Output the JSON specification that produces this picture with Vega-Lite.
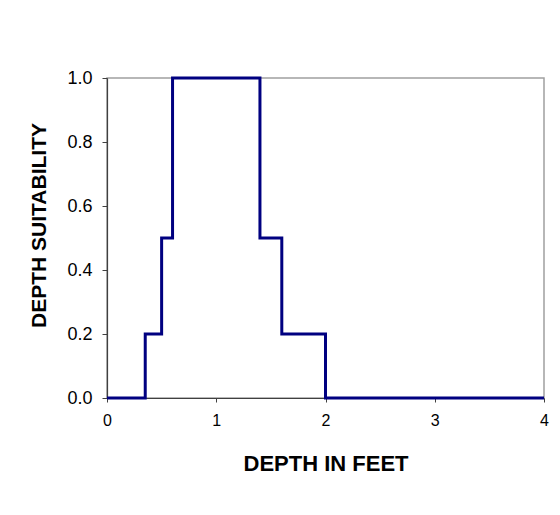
{
  "$schema": "https://vega.github.io/schema/vega-lite/v6.json",
  "width": 437,
  "height": 320,
  "autosize": {"type": "none"},
  "padding": {"left": 107, "top": 78, "right": 16, "bottom": 117},
  "background": "white",
  "config": {
    "font": "Liberation Sans",
    "view": {"stroke": "#a0a0a0", "strokeWidth": 1.5},
    "axis": {"grid": false, "domainColor": "#404040", "tickColor": "#404040", "domainWidth": 1.2, "labelColor": "black", "titleColor": "black"}
  },
  "data": {
    "values": [
      {"depth": 0, "suitability": 0},
      {"depth": 0.35, "suitability": 0.2},
      {"depth": 0.5, "suitability": 0.5},
      {"depth": 0.6, "suitability": 1.0},
      {"depth": 1.4, "suitability": 0.5},
      {"depth": 1.6, "suitability": 0.2},
      {"depth": 2.0, "suitability": 0},
      {"depth": 4.0, "suitability": 0}
    ]
  },
  "mark": {"type": "line", "interpolate": "step-after", "color": "#000080", "strokeWidth": 3},
  "encoding": {
    "x": {
      "field": "depth", "type": "quantitative",
      "scale": {"domain": [0, 4], "nice": false},
      "axis": {"values": [0, 1, 2, 3, 4], "format": "d", "title": "DEPTH IN FEET", "titleFontSize": 22, "titleFontWeight": "bold", "titlePadding": 25, "labelFontSize": 16, "labelPadding": 10, "tickSize": 4, "labelFlush": false}
    },
    "y": {
      "field": "suitability", "type": "quantitative",
      "scale": {"domain": [0, 1], "nice": false},
      "axis": {"values": [0, 0.2, 0.4, 0.6, 0.8, 1.0], "format": ".1f", "title": "DEPTH SUITABILITY", "titleFontSize": 21, "titleFontWeight": "bold", "titlePadding": 17, "titleY": 147, "labelFontSize": 18, "labelPadding": 10, "tickSize": 5, "labelFlush": false}
    }
  }
}
